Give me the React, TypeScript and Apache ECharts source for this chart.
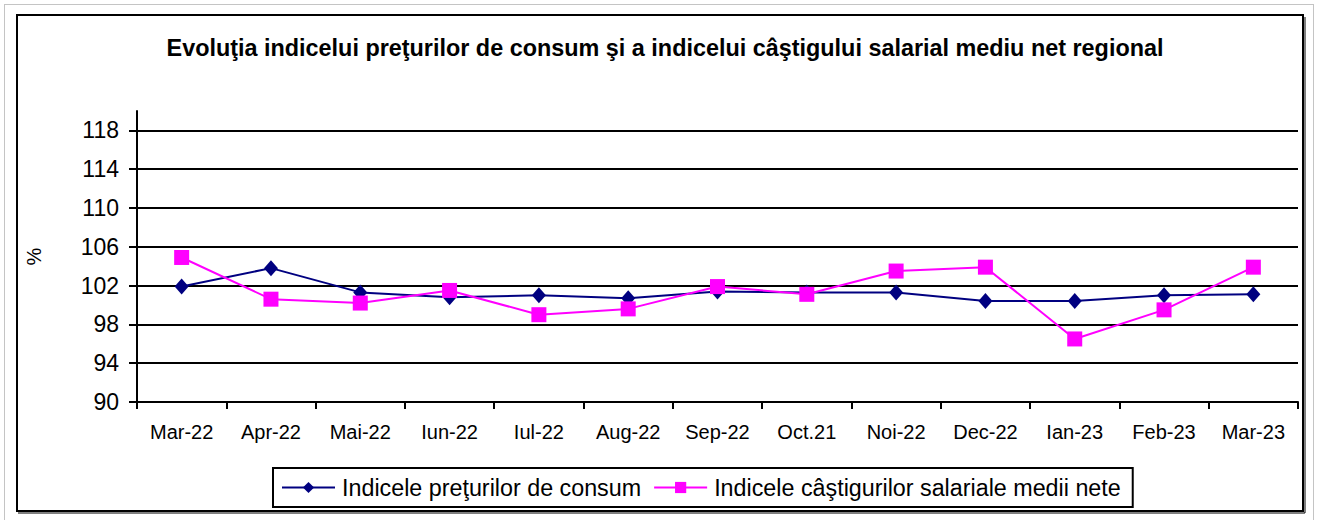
import React, { useEffect, useRef } from "react";
import * as echarts from "echarts";

const categories = ["Mar-22", "Apr-22", "Mai-22", "Iun-22", "Iul-22", "Aug-22", "Sep-22", "Oct.21", "Noi-22", "Dec-22", "Ian-23", "Feb-23", "Mar-23"];
const cpiValues = [101.9, 103.8, 101.3, 100.8, 101.0, 100.7, 101.4, 101.3, 101.3, 100.4, 100.4, 101.0, 101.1];
const wageValues = [104.9, 100.6, 100.2, 101.5, 99.0, 99.6, 101.9, 101.1, 103.5, 103.9, 96.5, 99.5, 103.9];
const yTicks = [90, 94, 98, 102, 106, 110, 114, 118];

const FONT = "'Liberation Sans', Arial, sans-serif";

export default function App() {
  const ref = useRef<HTMLDivElement>(null);
  useEffect(() => {
    document.body.style.margin = "0";
    const chart = echarts.init(ref.current!, undefined, { renderer: "svg" });
    chart.setOption({
      animation: false,
      backgroundColor: "#ffffff",
      textStyle: { fontFamily: FONT, color: "#000" },
      title: {
        text: "Evoluţia indicelui preţurilor de consum şi a indicelui câştigului salarial mediu net regional",
        left: 660,
        textAlign: "center",
        top: 31,
        textStyle: { fontFamily: FONT, fontSize: 23.4, fontWeight: "bold", color: "#000" },
      },
      grid: { left: 137, right: 19, top: 111, bottom: 118, containLabel: false },
      legend: {
        left: 273,
        top: 468,
        padding: [8, 12, 8, 8],
        itemGap: 12,
        itemWidth: 53,
        itemHeight: 14,
        borderColor: "#000",
        borderWidth: 2,
        textStyle: { fontFamily: FONT, fontSize: 23.3, color: "#000", padding: [0, 0, 0, 2] },
        data: ["Indicele preţurilor de consum", "Indicele câştigurilor salariale medii nete"],
      },
      xAxis: {
        type: "category",
        data: categories,
        boundaryGap: true,
        axisLine: { lineStyle: { color: "#000", width: 2 } },
        axisTick: { show: true, length: 7, lineStyle: { color: "#000", width: 2 } },
        axisLabel: { fontFamily: FONT, fontSize: 20, color: "#000", margin: 20, interval: 0 },
        splitLine: { show: false },
      },
      yAxis: {
        type: "value",
        min: 90,
        max: 120,
        interval: 4,
        name: "%",
        nameLocation: "middle",
        nameRotate: 90,
        nameGap: 93,
        nameTextStyle: { fontFamily: FONT, fontSize: 20, color: "#000" },
        axisLine: { show: true, lineStyle: { color: "#000", width: 2 } },
        axisTick: { show: true, length: 8, customValues: yTicks, lineStyle: { color: "#000", width: 2 } },
        axisLabel: { fontFamily: FONT, fontSize: 23, color: "#000", margin: 18, customValues: yTicks },
        splitLine: { show: true, showMinLine: false, lineStyle: { color: "#000", width: 2 } },
      },
      series: [
        {
          name: "Indicele preţurilor de consum",
          type: "line",
          data: cpiValues,
          symbol: "diamond",
          symbolSize: [14, 16],
          lineStyle: { color: "#000080", width: 2 },
          itemStyle: { color: "#000080" },
          z: 2,
        },
        {
          name: "Indicele câştigurilor salariale medii nete",
          type: "line",
          data: wageValues,
          symbol: "rect",
          symbolSize: 15,
          lineStyle: { color: "#FF00FF", width: 2 },
          itemStyle: { color: "#FF00FF" },
          z: 3,
        },
      ],
      graphic: [
        {
          type: "rect",
          shape: { x: 4.5, y: 4.5, width: 1309, height: 530 },
          style: { fill: "none", stroke: "#888", lineWidth: 1, lineDash: [1, 1] },
          silent: true,
        },
        {
          type: "rect",
          shape: { x: 17, y: 15, width: 1286, height: 496 },
          style: { fill: "none", stroke: "#000", lineWidth: 2 },
          silent: true,
        },
        {
          type: "line",
          shape: { x1: 18, y1: 513, x2: 1305, y2: 513 },
          style: { stroke: "#000", lineWidth: 1 },
          silent: true,
        },
        {
          type: "line",
          shape: { x1: 1305, y1: 17, x2: 1305, y2: 513 },
          style: { stroke: "#000", lineWidth: 1 },
          silent: true,
        },
      ],
    });
    return () => chart.dispose();
  }, []);
  return <div ref={ref} style={{ width: 1317, height: 520 }} />;
}
